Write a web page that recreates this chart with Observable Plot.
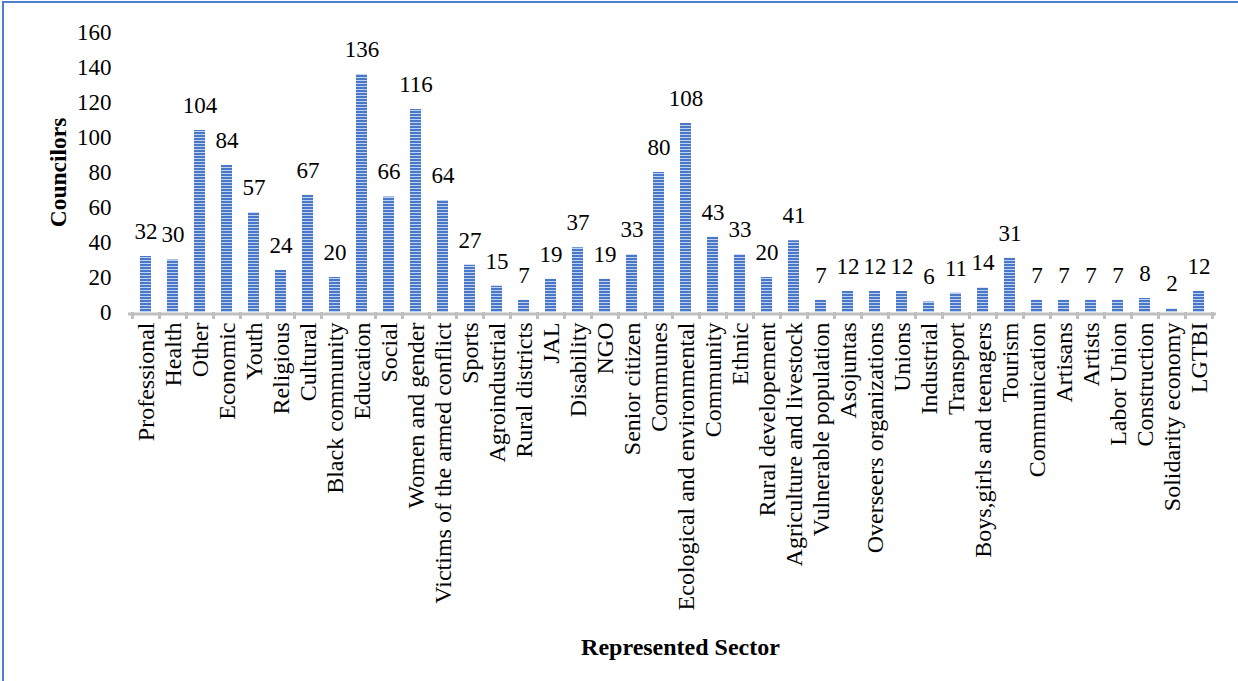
<!DOCTYPE html>
<html>
<head>
<meta charset="utf-8">
<script src="https://cdn.jsdelivr.net/npm/d3@7"></script>
<script src="https://cdn.jsdelivr.net/npm/@observablehq/plot@0.6"></script>
<style>
  html, body { margin: 0; padding: 0; background: #fff; }
  #wrap { position: relative; width: 1238px; height: 681px; overflow: hidden; }
  #edge { position: absolute; left: 2px; top: 1px; width: 1300px; height: 800px;
          border-left: 2px solid #4f7fd2; border-top: 2px solid #4f7fd2; pointer-events: none; }
  svg text { font-family: "Liberation Serif", "Times New Roman", serif; }
</style>
</head>
<body>
<div id="wrap"><div id="edge"></div></div>
<script>
// Councilors by represented sector
const sectors = [
  "Professional", "Health", "Other", "Economic", "Youth", "Religious", "Cultural",
  "Black community", "Education", "Social", "Women and gender",
  "Victims of the armed conflict", "Sports", "Agroindustrial", "Rural districts",
  "JAL", "Disability", "NGO", "Senior citizen", "Communes",
  "Ecological and environmental", "Community", "Ethnic", "Rural developement",
  "Agriculture and livestock", "Vulnerable population", "Asojuntas",
  "Overseers organizations", "Unions", "Industrial", "Transport",
  "Boys,girls and teenagers", "Tourism", "Communication", "Artisans", "Artists",
  "Labor Union", "Construction", "Solidarity economy", "LGTBI"
];
const councilors = [
  32, 30, 104, 84, 57, 24, 67, 20, 136, 66, 116, 64, 27, 15, 7, 19, 37, 19, 33, 80,
  108, 43, 33, 20, 41, 7, 12, 12, 12, 6, 11, 14, 31, 7, 7, 7, 7, 8, 2, 12
];
const yTicks = [0, 20, 40, 60, 80, 100, 120, 140, 160];
const yTitle = "Councilors";
const xTitle = "Represented Sector";

const data = sectors.map((s, i) => ({sector: s, value: councilors[i]}));

const W = 1238, H = 681;
const mL = 131, mR = 25, mT = 32, mB = 369;
const step = (W - mL - mR) / sectors.length;

const chart = Plot.plot({
  width: W,
  height: H,
  marginLeft: mL,
  marginRight: mR,
  marginTop: mT,
  marginBottom: mB,
  style: {fontFamily: "Liberation Serif, Times New Roman, serif", fontSize: "23px", color: "#000", background: "transparent"},
  x: {domain: sectors, paddingInner: 0.6, paddingOuter: 0.3, label: null},
  y: {domain: [0, 160], label: null},
  marks: [
    Plot.barY(data, {x: "sector", y: "value", fill: "url(#stripes)"}),
    // category axis line and boundary ticks
    Plot.ruleY([0], {stroke: "#bfbfbf", strokeWidth: 3, dy: 1.5, insetLeft: -3, insetRight: -3}),
    Plot.ruleX(sectors, {x: d => d, y1: 0, y2: 0, dx: -step / 2, insetBottom: -7, stroke: "#bfbfbf", strokeWidth: 3}),
    Plot.ruleX([sectors[sectors.length - 1]], {x: d => d, y1: 0, y2: 0, dx: step / 2, insetBottom: -7, stroke: "#bfbfbf", strokeWidth: 3}),
    Plot.axisY({ticks: yTicks, tickSize: 0, tickPadding: 20, tickFormat: d => d, fontSize: 23}),
    Plot.axisX({tickSize: 0, tickPadding: 10, tickRotate: -90, fontSize: 24}),
    Plot.text(data, {x: "sector", y: "value", text: d => String(d.value), dy: -25, lineAnchor: "middle", fontSize: 23, fill: "#000"}),
    Plot.text([yTitle], {frameAnchor: "left", textAnchor: "middle", rotate: -90, dx: -73, fontWeight: "bold", fontSize: 23.5, fill: "#000"}),
    Plot.text([xTitle], {frameAnchor: "bottom", textAnchor: "middle", dy: 342, dx: 8, fontWeight: "bold", fontSize: 24, fill: "#000"})
  ]
});

// horizontal stripe fill for the bars
const ns = "http://www.w3.org/2000/svg";
const defs = document.createElementNS(ns, "defs");
const pat = document.createElementNS(ns, "pattern");
pat.setAttribute("id", "stripes");
pat.setAttribute("patternUnits", "userSpaceOnUse");
pat.setAttribute("width", "6");
pat.setAttribute("height", "3");
const bg = document.createElementNS(ns, "rect");
bg.setAttribute("width", "6"); bg.setAttribute("height", "3"); bg.setAttribute("fill", "#c0d2f0");
const fg = document.createElementNS(ns, "rect");
fg.setAttribute("width", "6"); fg.setAttribute("height", "2"); fg.setAttribute("fill", "#4a78c8");
pat.appendChild(bg); pat.appendChild(fg);
defs.appendChild(pat);
chart.insertBefore(defs, chart.firstChild);

chart.style.position = "absolute";
chart.style.left = "0";
chart.style.top = "0";
document.getElementById("wrap").appendChild(chart);
</script>
</body>
</html>
